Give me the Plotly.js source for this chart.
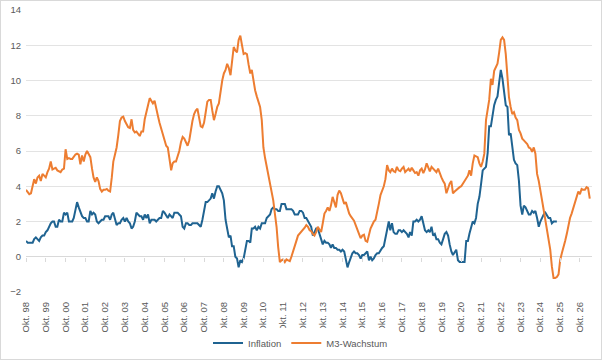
<!DOCTYPE html>
<html>
<head>
<meta charset="utf-8">
<script src="https://cdn.plot.ly/plotly-3.0.1.min.js"></script>
<style>
  html, body { margin: 0; padding: 0; background: #ffffff; }
  #chart { width: 602px; height: 360px; box-sizing: border-box; border: 1px solid #d9d9d9; }
</style>
</head>
<body>
<div id="chart"></div>
<script>
// First month of both series: October 1998 (monthly data)
const startYear = 1998;
const startMonth = 10;

// Tick labels on the time axis (one per October)
const tickLabels = ['Okt. 98','Okt. 99','Okt. 00','Okt. 01','Okt. 02','Okt. 03','Okt. 04','Okt. 05',
  'Okt. 06','Okt. 07','Okt. 08','Okt. 09','Okt. 10','Okt. 11','Okt. 12','Okt. 13','Okt. 14',
  'Okt. 15','Okt. 16','Okt. 17','Okt. 18','Okt. 19','Okt. 20','Okt. 21','Okt. 22','Okt. 23',
  'Okt. 24','Okt. 25','Okt. 26'];

// Inflation, % y/y, Oct 1998 .. Aug 2025
const inflation = [
  0.9,0.8,0.8,
  0.8,0.8,1.0,1.1,1.0,0.9,1.1,1.2,1.2,1.4,1.5,1.7,
  1.9,2.0,2.0,1.7,1.7,2.1,2.0,2.0,2.5,2.4,2.5,2.0,
  2.0,2.0,2.2,2.7,3.1,2.8,2.5,2.3,2.2,2.2,2.0,2.0,
  2.6,2.4,2.5,2.4,2.0,1.9,2.0,2.1,2.1,2.3,2.3,2.3,
  2.1,2.4,2.5,2.1,1.8,1.9,1.9,2.1,2.2,2.0,2.2,2.0,
  1.9,1.6,1.7,2.0,2.5,2.4,2.3,2.3,2.1,2.4,2.2,2.4,
  1.9,2.1,2.1,2.1,2.0,2.1,2.2,2.2,2.6,2.5,2.3,2.2,
  2.4,2.3,2.2,2.5,2.5,2.5,2.4,2.3,1.7,1.6,1.9,1.9,
  1.8,1.8,1.9,1.9,1.9,1.9,1.8,1.7,2.1,2.6,3.1,3.1,
  3.2,3.3,3.6,3.3,3.7,4.0,4.0,3.8,3.6,3.2,2.1,1.6,
  1.1,1.2,0.6,0.6,0.0,-0.1,-0.6,-0.2,-0.3,-0.1,0.5,0.9,
  0.9,0.8,1.6,1.6,1.7,1.5,1.7,1.6,1.9,1.9,1.9,2.2,
  2.3,2.4,2.7,2.8,2.7,2.7,2.6,2.6,3.0,3.0,3.0,2.7,
  2.7,2.7,2.7,2.6,2.4,2.4,2.4,2.6,2.6,2.5,2.2,2.2,
  2.0,1.8,1.7,1.2,1.4,1.6,1.6,1.3,1.1,0.7,0.9,0.8,
  0.8,0.7,0.5,0.7,0.5,0.5,0.4,0.4,0.3,0.4,0.3,-0.2,
  -0.6,-0.3,-0.1,0.2,0.3,0.2,0.2,0.1,-0.1,0.1,0.1,0.2,
  0.3,-0.2,0.0,-0.2,-0.1,0.1,0.2,0.2,0.4,0.5,0.6,1.1,
  1.7,2.0,1.5,1.9,1.4,1.3,1.3,1.5,1.5,1.4,1.5,1.4,
  1.3,1.1,1.4,1.2,2.0,2.0,2.1,2.0,2.1,2.3,1.9,1.5,
  1.4,1.5,1.4,1.7,1.2,1.3,1.0,1.0,0.8,0.7,1.0,1.3,
  1.4,1.2,0.7,0.3,0.1,0.3,0.4,-0.2,-0.3,-0.3,-0.3,-0.3,
  0.9,0.9,1.3,1.6,2.0,1.9,2.2,3.0,3.4,4.1,4.9,5.0,
  5.1,5.9,7.4,7.4,8.1,8.6,8.9,9.1,9.9,10.6,10.1,9.2,
  8.6,8.5,6.9,7.0,6.1,5.5,5.3,5.2,4.3,2.9,2.4,2.9,
  2.8,2.6,2.4,2.4,2.6,2.5,2.6,2.2,1.7,2.0,2.2,2.4,
  2.5,2.3,2.2,2.2,1.9,2.0,2.0,2.0
];

// M3 growth, % y/y (plotted with lead), Oct 1998 .. Apr 2027
const m3Growth = [
  3.8,3.7,3.55,3.6,4.1,4.4,4.15,4.5,4.6,4.3,4.7,4.6,
  4.5,4.8,5.0,5.4,4.95,5.0,5.05,4.9,4.85,4.8,4.95,5.0,
  6.1,5.55,5.6,5.55,5.55,5.7,5.8,5.85,5.8,5.25,5.75,5.4,
  5.8,6.0,5.85,5.65,5.0,4.5,4.25,4.5,4.3,3.85,3.7,3.8,
  3.8,3.85,3.75,3.7,4.5,5.4,5.8,6.2,6.9,7.7,7.9,7.95,
  7.7,7.5,7.35,7.3,7.8,7.2,7.05,7.1,7.0,6.85,7.1,7.1,
  7.8,8.3,8.6,9.0,8.8,8.7,8.85,8.5,8.0,7.6,7.3,7.0,
  6.6,6.3,6.2,5.5,4.9,5.3,5.4,5.4,5.7,6.0,6.5,6.8,
  6.7,6.5,6.3,6.6,7.35,7.7,8.1,8.3,8.4,7.8,7.4,7.35,
  7.6,8.2,8.8,8.9,8.9,8.3,7.75,8.1,8.5,8.7,9.5,10.0,
  10.4,10.6,10.95,10.7,10.3,11.2,11.9,11.7,11.6,12.3,12.55,12.0,
  11.5,11.55,11.5,10.9,10.4,10.6,10.0,9.45,9.1,8.8,8.5,7.75,
  6.2,5.6,5.1,4.7,4.2,3.8,3.2,2.45,1.7,0.55,-0.3,-0.2,
  -0.15,-0.3,-0.15,-0.2,-0.25,0.0,0.35,0.7,0.9,1.2,1.3,1.45,
  1.5,1.65,1.8,1.7,1.5,1.45,1.3,1.2,1.4,1.7,1.55,1.4,
  1.9,2.45,2.6,2.8,2.6,2.9,3.4,3.1,2.8,3.5,3.75,3.6,
  3.3,3.0,3.1,2.7,2.45,2.3,2.2,2.05,1.8,1.5,1.3,1.05,
  1.2,1.25,0.9,0.85,1.35,1.6,1.8,2.0,2.1,2.65,3.0,3.5,
  3.7,4.0,4.4,5.2,4.9,4.8,5.0,4.85,4.8,5.1,4.9,4.85,
  5.0,5.1,4.8,4.9,5.0,4.85,5.05,4.9,4.75,4.8,4.6,4.9,
  5.0,4.75,4.95,5.3,5.0,4.85,5.1,5.0,4.95,4.8,5.0,4.7,
  4.5,4.3,4.15,3.6,3.9,4.15,4.3,3.6,3.7,3.8,3.9,3.95,
  4.0,4.15,4.3,4.5,4.6,4.9,4.6,5.3,5.75,5.7,5.65,5.3,
  5.1,5.4,5.85,7.75,8.3,8.9,10.1,9.75,10.55,10.8,10.95,11.6,
  12.3,12.45,12.3,11.5,10.4,9.05,8.5,8.1,8.2,7.9,7.75,7.2,
  7.0,6.7,6.6,6.5,6.4,6.2,6.15,5.95,6.2,5.85,4.7,4.3,
  3.6,3.2,2.65,2.0,1.5,0.95,0.4,-0.55,-1.2,-1.2,-1.15,-1.0,
  -0.2,0.2,0.5,0.9,1.3,1.8,2.2,2.45,2.8,3.1,3.5,3.7,
  3.55,3.85,3.8,3.8,3.95,3.9,3.3
];

function monthDates(n) {
  const out = [];
  for (let i = 0; i < n; i++) {
    const k = (startMonth - 1) + i;
    const y = startYear + Math.floor(k / 12);
    const m = (k % 12) + 1;
    out.push(y + '-' + String(m).padStart(2, '0') + '-01');
  }
  return out;
}
const tickVals = tickLabels.map((_, i) => (startYear + i) + '-' + String(startMonth).padStart(2, '0') + '-01');
const xRange = ['1998-10-01', '2027-05-12'];

const font = { family: '"Liberation Sans", Arial, sans-serif', size: 9.5, color: '#595959' };

const traces = [
  {
    type: 'scatter', mode: 'lines', name: 'Inflation',
    x: monthDates(inflation.length), y: inflation,
    line: { color: '#1f6391', width: 2 }
  },
  {
    type: 'scatter', mode: 'lines', name: 'M3-Wachstum',
    x: monthDates(m3Growth.length), y: m3Growth,
    line: { color: '#ed7d31', width: 2 }
  },
  { type: 'scatter', x: [], y: [], xaxis: 'x2', showlegend: false, hoverinfo: 'skip' }
];

const layout = {
  width: 600, height: 358,
  margin: { l: 25, r: 9, t: 9, b: 67, autoexpand: false },
  paper_bgcolor: '#ffffff', plot_bgcolor: '#ffffff',
  font: font,
  showlegend: true,
  legend: {
    orientation: 'h', x: 0.485, xanchor: 'center',
    yref: 'container', y: 0.045, yanchor: 'middle',
    font: font, itemwidth: 30, tracegroupgap: 0
  },
  xaxis: {
    type: 'date', range: xRange, automargin: false,
    tickmode: 'array', tickvals: tickVals, ticktext: tickLabels,
    tickangle: -90, ticks: '', showgrid: false, zeroline: false, showline: false,
    ticklabelstandoff: 7, tickfont: font
  },
  xaxis2: {
    type: 'date', range: xRange, overlaying: 'x', anchor: 'free', position: 0.125,
    tickmode: 'array', tickvals: tickVals, ticks: 'outside', ticklen: 4,
    tickcolor: '#d9d9d9', tickwidth: 1, showticklabels: false,
    showgrid: false, zeroline: false, showline: false
  },
  yaxis: {
    range: [-2, 14], tickmode: 'array', tickvals: [-2,0,2,4,6,8,10,12,14],
    automargin: false,
    showgrid: true, gridcolor: '#e3e3e3', gridwidth: 1,
    zeroline: true, zerolinecolor: '#d9d9d9', zerolinewidth: 1,
    showline: false, ticks: '', tickfont: font, ticklabelstandoff: 4
  }
};

Plotly.newPlot('chart', traces, layout, { displayModeBar: false, staticPlot: true });
</script>
</body>
</html>
